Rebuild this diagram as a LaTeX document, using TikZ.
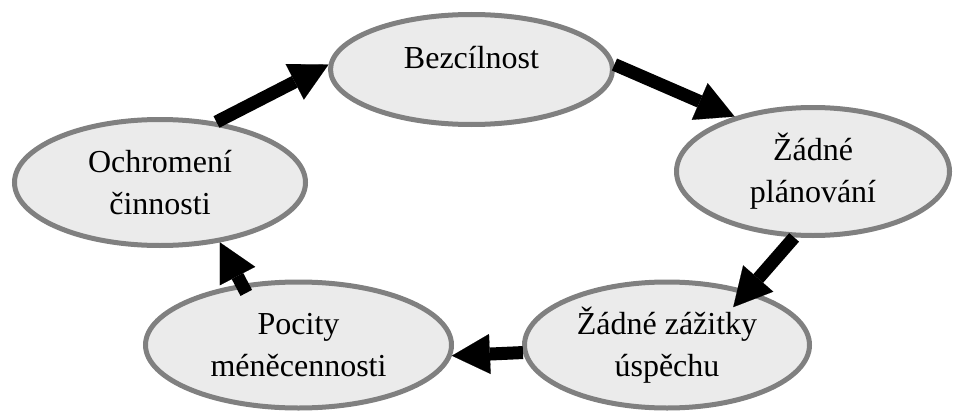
\documentclass[tikz,border=0pt]{standalone}
\usepackage{fontspec}
\setmainfont{Liberation Serif}
\usetikzlibrary{shapes.geometric,arrows.meta}
\tikzset{
  oval/.style={ellipse, draw=black!50, line width=5pt, fill=black!8,
    inner sep=0pt, align=center, font=\fontsize{32}{42}\selectfont},
  flow/.style={line width=13pt,
    -{Triangle[length=38pt,width=40pt,line width=0.1pt]}}
}
\begin{document}
\begin{tikzpicture}[x=1pt,y=-1pt]
\useasboundingbox (0,0) rectangle (953,412);
\node[oval, minimum width=282pt, minimum height=110pt] (bez) at (471.5,69.5) {\raisebox{8pt}[22pt][7pt]{Bezcílnost}};
\node[oval, minimum width=273pt, minimum height=128pt] (plan) at (813,171.5) {Žádné\\plánování};
\node[oval, minimum width=285pt, minimum height=126pt] (zaz) at (667,345) {Žádné zážitky\\úspěchu};
\node[oval, minimum width=306pt, minimum height=126pt] (poc) at (298.5,345) {Pocity\\méněcennosti};
\node[oval, minimum width=291pt, minimum height=126pt] (ochr) at (160,182.5) {Ochromení\\činnosti};
\draw[flow] (ochr.47) -- (bez.178);
\draw[flow] (bez.2) -- (plan.145);
\draw[flow, shorten >=-22pt] (plan.254) -- (zaz.34);
\draw[flow] (zaz.183) -- (poc.356);
\draw[flow, shorten <=-10pt] (poc.133) -- (ochr.315);
\end{tikzpicture}
\end{document}
